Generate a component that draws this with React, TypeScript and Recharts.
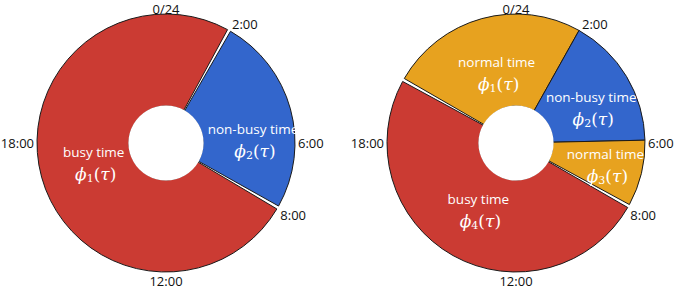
import React from 'react';
import { PieChart, Pie, Cell } from 'recharts';

// clock ticks shown round both rings
const clockHours = [0, 2, 6, 8, 12, 18];
const clockLabels = ['0/24', '2:00', '6:00', '8:00', '12:00', '18:00'];

// left ring: starts at 2:00, clockwise
const leftStart = 2;
const leftNames = ['non-busy time', 'busy time'];
const leftKinds = ['nonbusy', 'busy'];
const leftIndex = ['2', '1'];
const leftHours = [6, 18];

// right ring: starts at 20:00, clockwise
const rightStart = 20;
const rightNames = ['normal time', 'non-busy time', 'normal time', 'busy time'];
const rightKinds = ['normal', 'nonbusy', 'normal', 'busy'];
const rightIndex = ['1', '2', '3', '4'];
const rightHours = [6, 4, 2, 12];
// first three right slices touch without a gap
const rightJoined = 3;

const colors: Record<string, string> = {
  busy: '#cb3b33',
  nonbusy: '#3366cc',
  normal: '#e7a21f',
};

const W = 678;
const H = 290;
const OUTER = 129;
const INNER = 37;
const PAD = 1.5;
const CY = 143;
const LEFT_CX = 166;
const RIGHT_CX = 516;

// label nudges (hours shift, radius) per slice
const leftLabelPos = [{ dh: 0.9, r: 87 }, { dh: 0, r: 75 }];
const rightLabelPos = [{ dh: 0, r: 73 }, { dh: 0.4, r: 83 }, { dh: 0, r: 92 }, { dh: 0, r: 77 }];

const hourToAngle = (h: number) => 90 - h * 15;
const RAD = Math.PI / 180;

const sans = '"Open Sans", sans-serif';
const mathFont = '"DejaVu Serif", serif';

const makeLabel = (names: string[], idx: string[], pos: { dh: number; r: number }[], skip: number[] = []) =>
  (props: any) => {
    const { cx, cy, midAngle, index } = props;
    if (skip.includes(index)) return null;
    const p = pos[index];
    const a = (midAngle - p.dh * 15) * RAD;
    const x = cx + p.r * Math.cos(a);
    const y = cy - p.r * Math.sin(a);
    return (
      <g>
        <text x={x} y={y - 11} textAnchor="middle" dominantBaseline="central" fill="#fff" fontFamily={sans} fontSize={13.5}>
          {names[index]}
        </text>
        <text x={x + 2} y={y + 11} textAnchor="middle" dominantBaseline="central" fill="#fff" fontFamily={mathFont} fontSize={17}>
          <tspan fontStyle="italic">ϕ</tspan>
          <tspan fontSize={11} dy={4}>{idx[index]}</tspan>
          <tspan dy={-4}>(</tspan>
          <tspan fontStyle="italic">τ</tspan>
          <tspan>)</tspan>
        </text>
      </g>
    );
  };

const ClockLabels = ({ cx, cy, r }: { cx: number; cy: number; r: number }) => (
  <g>
    {clockHours.map((h, i) => {
      const a = h * 15 * RAD;
      const s = Math.sin(a);
      const c = Math.cos(a);
      const anchor = s > 0.1 ? 'start' : s < -0.1 ? 'end' : 'middle';
      const base = c > 0.1 ? 'auto' : c < -0.1 ? 'hanging' : 'central';
      // top label sits on the ring's edge
      const rr = c > 0.99 ? r - 3 : r;
      return (
        <text key={i} x={cx + rr * s} y={cy - rr * c} textAnchor={anchor} dominantBaseline={base}
          fill="#111" fontFamily={sans} fontSize={13}>
          {clockLabels[i]}
        </text>
      );
    })}
  </g>
);

const leftData = leftHours.map((v, i) => ({ name: leftNames[i], kind: leftKinds[i], value: v }));
const rightData = rightHours.map((v, i) => ({ name: rightNames[i], kind: rightKinds[i], value: v }));
const joinedData = rightData.slice(0, rightJoined);
const joinedTotal = joinedData.reduce((acc, d) => acc + d.value, 0);
const rightGrouped = [
  { name: 'joined', kind: 'none', value: joinedTotal },
  ...rightData.slice(rightJoined),
];
const rightTotal = rightHours.reduce((acc, v) => acc + v, 0);
const rightGroups = rightGrouped.length;
const holeData = [{ value: 1 }];

export default function App() {
  const rStart = hourToAngle(rightStart);
  const joinedEnd = rStart - (joinedTotal / rightTotal) * (360 - rightGroups * PAD);
  const lStart = hourToAngle(leftStart);

  return (
    <div style={{ position: 'absolute', left: 0, top: 0, width: W, height: H, background: '#fff' }}>
      <PieChart width={W} height={H} margin={{ top: 0, right: 0, bottom: 0, left: 0 }}>
        <Pie data={leftData} dataKey="value" cx={LEFT_CX} cy={CY} innerRadius={INNER} outerRadius={OUTER}
          startAngle={lStart} endAngle={lStart - 360} paddingAngle={PAD} stroke="#1a1a1a" strokeWidth={1}
          isAnimationActive={false} labelLine={false} label={makeLabel(leftNames, leftIndex, leftLabelPos)}>
          {leftData.map((d, i) => <Cell key={i} fill={colors[d.kind]} />)}
        </Pie>
        <Pie data={holeData} dataKey="value" cx={LEFT_CX} cy={CY} innerRadius={0} outerRadius={INNER + 0.6}
          fill="#fff" stroke="none" isAnimationActive={false} />

        <Pie data={rightGrouped} dataKey="value" cx={RIGHT_CX} cy={CY} innerRadius={INNER} outerRadius={OUTER}
          startAngle={rStart} endAngle={rStart - 360} paddingAngle={PAD} stroke="#1a1a1a" strokeWidth={1}
          isAnimationActive={false} labelLine={false}
          label={makeLabel(['', ...rightNames.slice(rightJoined)], ['', ...rightIndex.slice(rightJoined)],
            [{ dh: 0, r: 0 }, ...rightLabelPos.slice(rightJoined)], [0])}>
          {rightGrouped.map((d, i) => (
            <Cell key={i} fill={d.kind === 'none' ? 'none' : colors[d.kind]} stroke={d.kind === 'none' ? 'none' : '#1a1a1a'} />
          ))}
        </Pie>
        <Pie data={joinedData} dataKey="value" cx={RIGHT_CX} cy={CY} innerRadius={INNER} outerRadius={OUTER}
          startAngle={rStart} endAngle={joinedEnd} stroke="#1a1a1a" strokeWidth={1}
          isAnimationActive={false} labelLine={false} label={makeLabel(rightNames, rightIndex, rightLabelPos)}>
          {joinedData.map((d, i) => <Cell key={i} fill={colors[d.kind]} />)}
        </Pie>
        <Pie data={holeData} dataKey="value" cx={RIGHT_CX} cy={CY} innerRadius={0} outerRadius={INNER + 0.6}
          fill="#fff" stroke="none" isAnimationActive={false} />

        <ClockLabels cx={LEFT_CX} cy={CY} r={132} />
        <ClockLabels cx={RIGHT_CX} cy={CY} r={132} />
      </PieChart>
    </div>
  );
}
